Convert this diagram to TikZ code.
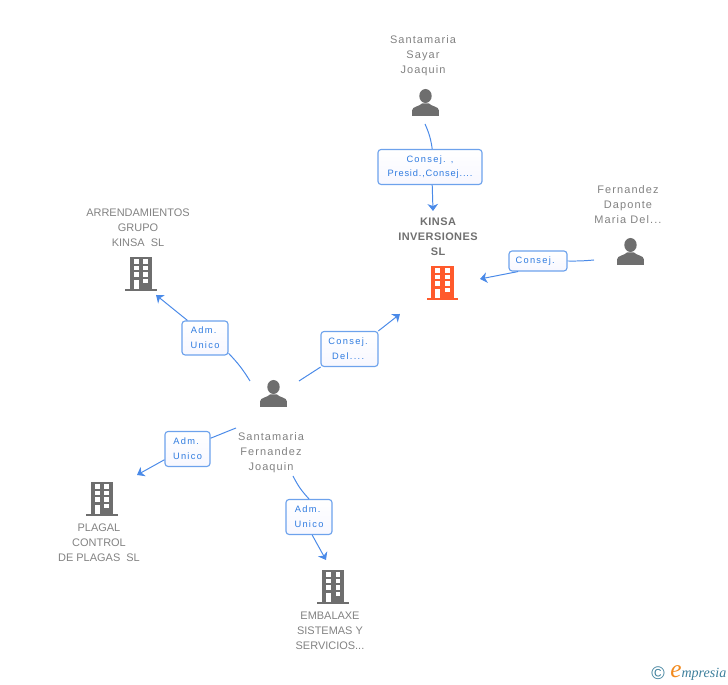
\documentclass[tikz,border=0pt]{standalone}
\usepackage{xcolor}
\usepackage{fontspec}
\usepackage{tikz}
\usetikzlibrary{positioning,calc,arrows.meta}
\newfontfamily\namefont[LetterSpace=10]{Liberation Sans}
\newfontfamily\capsfont{Liberation Sans}
\newfontfamily\boldfont[LetterSpace=4]{Liberation Sans Bold}
\newfontfamily\relfont[LetterSpace=14]{Liberation Sans}
\newfontfamily\reltight[LetterSpace=9]{Liberation Sans}
\newfontfamily\logofont{Liberation Serif Italic}
\newfontfamily\markfont{Liberation Sans}
\definecolor{icongray}{HTML}{6E6E6E}
\definecolor{textgray}{HTML}{828282}
\definecolor{titlegray}{HTML}{707070}
\definecolor{linkblue}{HTML}{4A8AE8}
\definecolor{boxblue}{HTML}{6DA2EC}
\definecolor{relblue}{HTML}{2F7BE0}
\definecolor{mainorange}{HTML}{FF5A2C}
\definecolor{logoteal}{HTML}{3D7F9C}
\definecolor{logoorange}{HTML}{F28A1E}
\tikzset{
    namelabel/.style={text=textgray, align=center, inner sep=0pt, font=\namefont\fontsize{7.8}{10.7}\selectfont},
    capslabel/.style={namelabel, font=\capsfont\fontsize{7.8}{10.7}\selectfont},
    mainlabel/.style={text=titlegray, align=center, inner sep=0pt, font=\boldfont\fontsize{7.8}{10.7}\selectfont},
    relbox/.style={draw=boxblue, line width=0.8pt, rounded corners=2.2pt, top color=white, bottom color=blue!3, text=relblue, align=center, inner sep=0pt, font=\relfont\fontsize{6.6}{10.7}\selectfont},
    link/.style={draw=linkblue, line width=0.7pt},
    linkarrow/.style={link, -{Stealth[length=5pt,width=7.5pt,inset=1.5pt]}},
    pics/buildicon/.style={code={
        \begin{scope}[x=0.025cm,y=-0.025cm]
            \fill[#1] (-11.5,-17) rectangle (11.5,15);
            \fill[#1] (-16,15) rectangle (16,17);
            \foreach \yy in {-14.5,-8,-1.5} {
                \fill[white] (-7.5,\yy) rectangle (-2.5,\yy+4.2);
                \fill[white] (2.5,\yy) rectangle (7.5,\yy+4.2);
            }
            \fill[white] (-7.5,6) rectangle (-2.5,15);
            \fill[white] (2.5,5) rectangle (7.5,9.5);
        \end{scope}
    }},
    pics/personicon/.style={code={
        \begin{scope}[x=0.025cm,y=-0.025cm]
            \fill[icongray] (0,-6.5) ellipse (6.2 and 7);
            \fill[icongray] (-13.5,13.5) -- (-13.5,8) .. controls (-13.5,4) and (-6,4) .. (-3.5,1)
                -- (3.5,1) .. controls (6,4) and (13.5,4) .. (13.5,8) -- (13.5,13.5) -- cycle;
        \end{scope}
    }}
}
\begin{document}
\begin{tikzpicture}
    \useasboundingbox (0,0) rectangle (18.2,17.125);

    % Icons
    \pic (mainicon) at (11.0625,10.05) {buildicon=mainorange};
    \pic (arrendicon) at (3.525,10.275) {buildicon=icongray};
    \pic (plagalicon) at (2.55,4.65) {buildicon=icongray};
    \pic (embalicon) at (8.325,2.45) {buildicon=icongray};
    \pic (sayaricon) at (10.6375,14.5625) {personicon};
    \pic (daponteicon) at (15.7625,10.8375) {personicon};
    \pic (joaquinicon) at (6.8375,7.2875) {personicon};

    % Names
    \node[namelabel] (sayar) at (10.575,15.725) {Santamaria\\Sayar\\Joaquin};
    \node[namelabel] (daponte) at (15.7,12.0) {Fernandez\\Daponte\\Maria Del...};
    \node[namelabel] (joaquin) at (6.775,5.8) {Santamaria\\Fernandez\\Joaquin};
    \node[mainlabel] (kinsa) at (10.95,11.2) {KINSA\\INVERSIONES\\SL};
    \node[capslabel] (arrend) at (3.45,11.425) {ARRENDAMIENTOS\\GRUPO\\KINSA\ \ SL};
    \node[capslabel] (plagal) at (2.475,3.55) {PLAGAL\\CONTROL\\DE PLAGAS\ \ SL};
    \node[capslabel] (embal) at (8.25,1.35) {EMBALAXE\\SISTEMAS Y\\SERVICIOS...};

    % Relation boxes
    \node[relbox, minimum width=2.6cm, minimum height=0.875cm] (relsayar) at (10.75,12.95) {\raisebox{-0.5pt}{Consej. ,}\\\reltight Presid.,Consej....};
    \node[relbox, minimum width=1.45cm, minimum height=0.5cm] (reldaponte) at (13.45,10.6) {Consej.\hspace*{4pt}};
    \node[relbox, minimum width=1.15cm, minimum height=0.85cm] (relarrend) at (5.125,8.675) {Adm.\hspace*{2pt}\\Unico};
    \node[relbox, minimum width=1.425cm, minimum height=0.875cm] (relmain) at (8.7375,8.4) {Consej.\hspace*{2pt}\\Del....\hspace*{2pt}};
    \node[relbox, minimum width=1.125cm, minimum height=0.875cm] (relplagal) at (4.6875,5.9) {Adm.\hspace*{2pt}\\Unico};
    \node[relbox, minimum width=1.15cm, minimum height=0.875cm] (relembal) at (7.725,4.2) {Adm.\hspace*{2pt}\\Unico};

    % Free ends
    \coordinate (sayarout) at (10.625,14.025);
    \coordinate (kinsain) at (10.825,11.85);
    \coordinate (daponteout) at (14.85,10.625);
    \coordinate (mainin) at (12.0,10.15);
    \coordinate (arrendout) at (6.25,7.6);
    \coordinate (arrendin) at (3.9,9.75);
    \coordinate (mainout) at (7.475,7.6);
    \coordinate (joaquinin) at (10.0,9.275);
    \coordinate (plagalout) at (5.9,6.425);
    \coordinate (plagalin) at (3.425,5.25);
    \coordinate (embalout) at (7.325,5.225);
    \coordinate (embalin) at (8.15,3.125);

    % Connectors
    \draw[link] (sayarout) to[bend left=8] (relsayar.83);
    \draw[linkarrow] (relsayar.-83) -- (kinsain);
    \draw[link] (daponteout) to[bend left=3] (reldaponte.east);
    \draw[linkarrow] (reldaponte.-152) -- (mainin);
    \draw[link] (arrendout) to[bend left=-6] (relarrend.-33);
    \draw[linkarrow] (relarrend.135) -- (arrendin);
    \draw[link] (mainout) -- (relmain.-148);
    \draw[linkarrow] (relmain.32) -- (joaquinin);
    \draw[link] (plagalout) -- (relplagal.25);
    \draw[linkarrow] (relplagal.-155) -- (plagalin);
    \draw[link] (embalout) to[bend left=-8] (relembal.north);
    \draw[linkarrow] (relembal.-80) -- (embalin);

    % Logo
    \node[text=logoteal, inner sep=0pt, font=\markfont\fontsize{13}{13}\selectfont] (logomark) at (16.45,0.3) {©};
    \node[inner sep=0pt, anchor=west, font=\logofont\fontsize{10}{10}\selectfont, text=logoteal] (logotext) at (16.75,0.3) {\textcolor{logoorange}{\fontsize{18}{18}\selectfont e}mpresia};
\end{tikzpicture}
\end{document}
